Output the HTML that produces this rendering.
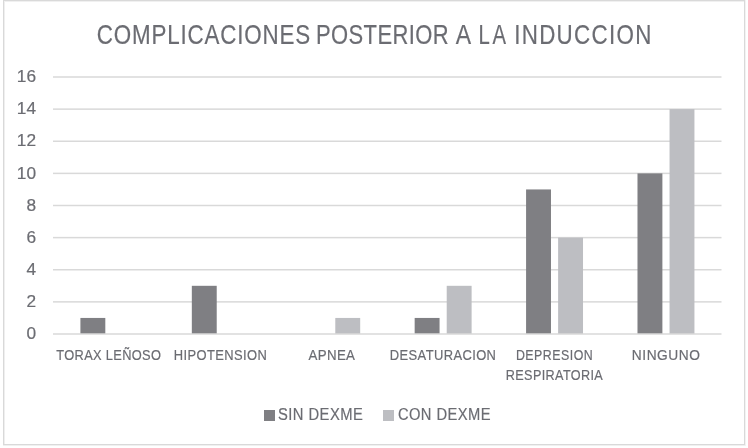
<!DOCTYPE html>
<html><head><meta charset="utf-8"><style>
html,body{margin:0;padding:0;background:#fff;}
svg{display:block;will-change:transform;}
text{font-family:"Liberation Sans",sans-serif;fill:#6b6c72;stroke:#6b6c72;stroke-width:0.2px;}
</style></head><body>
<svg width="748" height="448" viewBox="0 0 748 448">
<rect x="3" y="0" width="742" height="1" fill="#d9d9d9"/>
<rect x="3" y="444" width="742" height="1" fill="#d9d9d9"/>
<rect x="3" y="0" width="1" height="445" fill="#d9d9d9"/>
<rect x="744" y="0" width="1" height="445" fill="#d9d9d9"/>
<rect x="4" y="1" width="1" height="443" fill="#efefef"/>
<rect x="4" y="1" width="740" height="1" fill="#f0f0f0"/>
<rect x="745" y="0" width="1" height="446" fill="#f3f3f3"/>
<rect x="3" y="445" width="742" height="1" fill="#f0f0f0"/>
<rect x="53.0" y="301.125" width="668.50" height="1.5" fill="#d9d9d9"/>
<rect x="53.0" y="269.000" width="668.50" height="1.5" fill="#d9d9d9"/>
<rect x="53.0" y="236.875" width="668.50" height="1.5" fill="#d9d9d9"/>
<rect x="53.0" y="204.750" width="668.50" height="1.5" fill="#d9d9d9"/>
<rect x="53.0" y="172.625" width="668.50" height="1.5" fill="#d9d9d9"/>
<rect x="53.0" y="140.500" width="668.50" height="1.5" fill="#d9d9d9"/>
<rect x="53.0" y="108.375" width="668.50" height="1.5" fill="#d9d9d9"/>
<rect x="53.0" y="76.250" width="668.50" height="1.5" fill="#d9d9d9"/>
<rect x="80.41" y="317.94" width="24.9" height="16.06" fill="#7f7f83"/>
<rect x="191.82" y="285.81" width="24.9" height="48.19" fill="#7f7f83"/>
<rect x="335.29" y="317.94" width="24.9" height="16.06" fill="#bdbec2"/>
<rect x="414.66" y="317.94" width="24.9" height="16.06" fill="#7f7f83"/>
<rect x="446.71" y="285.81" width="24.9" height="48.19" fill="#bdbec2"/>
<rect x="526.08" y="189.44" width="24.9" height="144.56" fill="#7f7f83"/>
<rect x="558.12" y="237.62" width="24.9" height="96.38" fill="#bdbec2"/>
<rect x="637.49" y="173.38" width="24.9" height="160.62" fill="#7f7f83"/>
<rect x="669.54" y="109.12" width="24.9" height="224.88" fill="#bdbec2"/>
<rect x="53.0" y="333.250" width="668.50" height="1.5" fill="#d9d9d9"/>
<text transform="translate(36.0,82) scale(1.08,1)" x="0" y="0" font-size="16" text-anchor="end">16</text>
<text transform="translate(36.0,114) scale(1.08,1)" x="0" y="0" font-size="16" text-anchor="end">14</text>
<text transform="translate(36.0,146.3) scale(1.08,1)" x="0" y="0" font-size="16" text-anchor="end">12</text>
<text transform="translate(36.0,178.6) scale(1.08,1)" x="0" y="0" font-size="16" text-anchor="end">10</text>
<text transform="translate(36.0,210.8) scale(1.08,1)" x="0" y="0" font-size="16" text-anchor="end">8</text>
<text transform="translate(36.0,242.9) scale(1.08,1)" x="0" y="0" font-size="16" text-anchor="end">6</text>
<text transform="translate(36.0,275) scale(1.08,1)" x="0" y="0" font-size="16" text-anchor="end">4</text>
<text transform="translate(36.0,307) scale(1.08,1)" x="0" y="0" font-size="16" text-anchor="end">2</text>
<text transform="translate(36.0,339) scale(1.08,1)" x="0" y="0" font-size="16" text-anchor="end">0</text>
<text transform="translate(96.87,43.7) scale(0.82,1)" x="0" y="0" font-size="27.3" textLength="260.09" lengthAdjust="spacing">COMPLICACIONES</text>
<text transform="translate(315.97,43.7) scale(0.8048202137998055,1)" x="0" y="0" font-size="27.3" textLength="164.77" lengthAdjust="spacing">POSTERIOR</text>
<text transform="translate(455.67,43.7) scale(0.8441907178530992,1)" x="0" y="0" font-size="27.3" textLength="19.63" lengthAdjust="spacing">A</text>
<text transform="translate(478.41,43.7) scale(0.7430979228168724,1)" x="0" y="0" font-size="27.3" textLength="37.28" lengthAdjust="spacing">LA</text>
<text transform="translate(514.15,43.7) scale(0.82,1)" x="0" y="0" font-size="27.3" textLength="167.48" lengthAdjust="spacing">INDUCCION</text>
<text transform="translate(56.31,360) scale(0.8564223339507806,1)" x="0" y="0" font-size="15" textLength="122.17" lengthAdjust="spacing">TORAX LEÑOSO</text>
<text transform="translate(173.65,360) scale(0.863325774754346,1)" x="0" y="0" font-size="15" textLength="108.04" lengthAdjust="spacing">HIPOTENSION</text>
<text transform="translate(308.61,360) scale(0.8864208909370204,1)" x="0" y="0" font-size="15" textLength="52.27" lengthAdjust="spacing">APNEA</text>
<text transform="translate(389.86,360) scale(0.8633134841868467,1)" x="0" y="0" font-size="15" textLength="122.93" lengthAdjust="spacing">DESATURACION</text>
<text transform="translate(515.93,360) scale(0.8254111405835549,1)" x="0" y="0" font-size="15" textLength="93.02" lengthAdjust="spacing">DEPRESION</text>
<text transform="translate(505.86,380) scale(0.8439093484419259,1)" x="0" y="0" font-size="15" textLength="114.77" lengthAdjust="spacing">RESPIRATORIA</text>
<text transform="translate(631.80,360) scale(0.9172739303043667,1)" x="0" y="0" font-size="15" textLength="74.36" lengthAdjust="spacing">NINGUNO</text>
<text transform="translate(277.97,420) scale(0.8942857142857142,1)" x="0" y="0" font-size="16.5" textLength="94.82" lengthAdjust="spacing">SIN DEXME</text>
<text transform="translate(397.89,420) scale(0.8935709818636649,1)" x="0" y="0" font-size="16.5" textLength="103.70" lengthAdjust="spacing">CON DEXME</text>
<rect x="264" y="410" width="11" height="11" fill="#7f7f83"/>
<rect x="383" y="410" width="11" height="11" fill="#bdbec2"/>
</svg>
</body></html>
